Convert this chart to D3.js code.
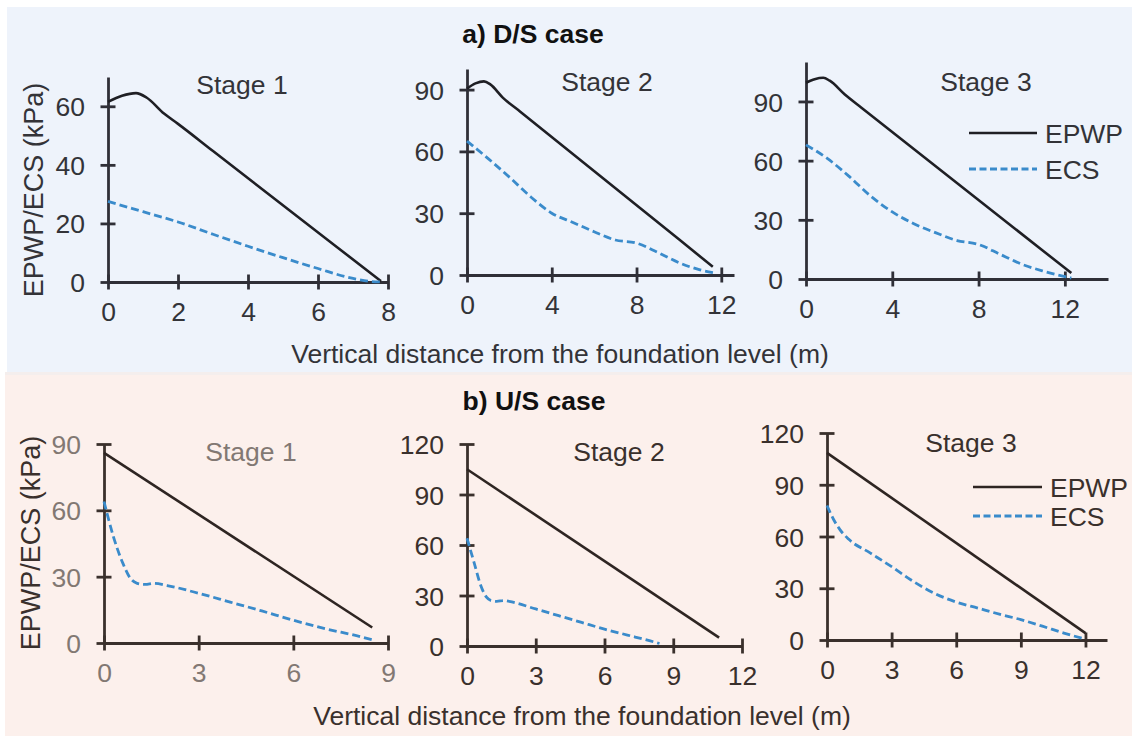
<!DOCTYPE html>
<html>
<head>
<meta charset="utf-8">
<script src="https://cdn.jsdelivr.net/npm/d3@7"></script>
<style>
  body { margin: 0; background: #fff; }
  svg text { font-family: "Liberation Sans", Arial, sans-serif; }
</style>
</head>
<body>
<div class="canvas"></div>
<script>
// values: [distance (m), pressure (kPa)]
const dsStage1Epwp = [[0,61.5],[0.4,63.6],[0.8,64.5],[1.1,63],[1.6,57.5],[2,54],[3,44.7],[6.5,12.3],[7.8,0.3]];
const dsStage1Ecs  = [[0,27.5],[1,24],[2,20.5],[3,16.3],[4,12.2],[5,8.3],[6,4.6],[7,1.2],[7.5,0.2],[7.8,0]];
const dsStage2Epwp = [[0,90.5],[0.4,93],[0.8,94],[1.1,92.5],[1.7,86],[2.5,79.4],[10,17.3],[11.6,4]];
const dsStage2Ecs  = [[0,65],[1,56.5],[2,47.5],[3,38],[4,30],[5,25.5],[6,21],[7,17],[8,15.5],[9,11],[10,6],[11,2.5],[11.7,1]];
const dsStage3Epwp = [[0,99.5],[0.4,101.3],[0.8,102],[1.1,100.5],[1.8,93.5],[2.6,86.6],[11,14.2],[12.3,3]];
const dsStage3Ecs  = [[0,68],[1,61],[2,52],[3,42],[4,34],[5,28],[6,23.5],[7,19.5],[8,17.5],[9,12.5],[10,7.5],[11,4],[12.3,0.5]];

const usStage1Epwp = [[0,86],[8.5,7]];
const usStage1Ecs  = [[0,64],[0.3,48],[0.6,36],[0.85,29],[1.05,27],[1.3,26.5],[1.6,27],[2,26],[3,22.5],[4,18.5],[5,14.5],[6,10.3],[7,6.5],[8,3.3],[8.5,1.5]];
const usStage2Epwp = [[0,105],[11,5]];
const usStage2Ecs  = [[0,64],[0.3,50],[0.6,36],[0.85,29],[1.05,27],[1.3,26.5],[1.6,27],[2,26],[3,22],[4,18],[5,14],[6,10],[7,6.5],[8,3],[8.4,1.5]];
const usStage3Epwp = [[0,108.5],[12,4]];
const usStage3Ecs  = [[0,78],[0.3,70],[0.6,64],[1,58.5],[2,50.5],[3,42.5],[4,34],[5,27],[6,22],[7,18.5],[8,15],[9,11.8],[10,8],[11,4],[12,0.5]];

// tick labels
const xTicksDs1 = [0,2,4,6,8];
const xTicksDs23 = [0,4,8,12];
const yTicksDs1 = [0,20,40,60];
const yTicksDs23 = [0,30,60,90];
const xTicksUs1 = [0,3,6,9];
const xTicksUs23 = [0,3,6,9,12];
const yTicksUs1 = [0,30,60,90];
const yTicksUs23 = [0,30,60,90,120];

const seriesNames = ["EPWP","ECS"];
const xTitle = "Vertical distance from the foundation level (m)";
const yTitle = "EPWP/ECS (kPa)";

const svgWidth = 1132, svgHeight = 736;
const fs = "26.5px";

const svg = d3.select('.canvas')
  .append('svg')
    .attr('width', svgWidth)
    .attr('height', svgHeight);

// the two coloured bands
svg.append("rect").attr("x",7).attr("y",7).attr("width",1125).attr("height",365).attr("fill","#eef3fb");
svg.append("rect").attr("x",5).attr("y",372).attr("width",1127).attr("height",4).attr("fill","#f4eeed");
svg.append("rect").attr("x",5).attr("y",375).attr("width",1127).attr("height",361).attr("fill","#fcf0ec");

const blue = "#3a8bcb";

// one panel per stage; position info only
const panels = [
  {epwp: dsStage1Epwp, ecs: dsStage1Ecs, xMax: 8,    yMax: 70,  xt: xTicksDs1,  yt: yTicksDs1,  left:108, right:388,  bottom:282, top:77,
   stage:"Stage 1", sx:242, sy:94,  ink:"#2f2f37", tickInk:"#333338", line:"#1f1f24"},
  {epwp: dsStage2Epwp, ecs: dsStage2Ecs, xMax: 12.6, yMax: 100, xt: xTicksDs23, yt: yTicksDs23, left:467, right:734,  bottom:275, top:69,
   stage:"Stage 2", sx:607, sy:91,  ink:"#2f2f37", tickInk:"#333338", line:"#1f1f24"},
  {epwp: dsStage3Epwp, ecs: dsStage3Ecs, xMax: 14,   yMax: 110, xt: xTicksDs23, yt: yTicksDs23, left:806, right:1108, bottom:279, top:62,
   stage:"Stage 3", sx:986, sy:91,  ink:"#2f2f37", tickInk:"#333338", line:"#1f1f24"},
  {epwp: usStage1Epwp, ecs: usStage1Ecs, xMax: 9,    yMax: 90,  xt: xTicksUs1,  yt: yTicksUs1,  left:104, right:388,  bottom:643, top:444,
   stage:"Stage 1", sx:251, sy:461, ink:"#3a302c", tickInk:"#827873", line:"#2e2522", stageInk:"#827873"},
  {epwp: usStage2Epwp, ecs: usStage2Ecs, xMax: 12,   yMax: 120, xt: xTicksUs23, yt: yTicksUs23, left:467, right:742,  bottom:646, top:444,
   stage:"Stage 2", sx:619, sy:461, ink:"#3a302c", tickInk:"#3a302c", line:"#2e2522"},
  {epwp: usStage3Epwp, ecs: usStage3Ecs, xMax: 13,   yMax: 120, xt: xTicksUs23, yt: yTicksUs23, left:827, right:1107, bottom:640, top:433,
   stage:"Stage 3", sx:971, sy:452, ink:"#3a302c", tickInk:"#3a302c", line:"#2e2522"}
];

panels.forEach(p => {
  const x = d3.scaleLinear().domain([0, p.xMax]).range([p.left, p.right]);
  const y = d3.scaleLinear().domain([0, p.yMax]).range([p.bottom, p.top]);
  const g = svg.append("g");

  // x axis with cross ticks
  const xg = g.append("g")
    .attr("transform", `translate(0,${p.bottom})`)
    .call(d3.axisBottom(x).tickValues(p.xt).tickSizeOuter(0).tickFormat(d3.format("d")));
  xg.selectAll(".tick line").attr("y1",-7.5).attr("y2",7.5);
  xg.selectAll("text").attr("y",20).attr("dy","0.72em").style("font-size",fs).attr("fill",p.tickInk);

  const yg = g.append("g")
    .attr("transform", `translate(${p.left},0)`)
    .call(d3.axisLeft(y).tickValues(p.yt).tickSizeOuter(0).tickFormat(d3.format("d")));
  yg.selectAll(".tick line").attr("x1",-7.5).attr("x2",7.5);
  yg.selectAll("text").attr("x",-23).attr("dy","0.36em").style("font-size",fs).attr("fill",p.tickInk);

  g.selectAll(".domain, .tick line").attr("stroke", p.ink).attr("stroke-width", 2.8);

  const line = d3.line().x(d => x(d[0])).y(d => y(d[1])).curve(d3.curveMonotoneX);

  g.append("path").attr("d", line(p.epwp))
    .attr("fill","none").attr("stroke",p.line).attr("stroke-width",2.6);
  g.append("path").attr("d", line(p.ecs))
    .attr("fill","none").attr("stroke",blue).attr("stroke-width",2.8).attr("stroke-dasharray","8,4");

  g.append("text").attr("x",p.sx).attr("y",p.sy).attr("text-anchor","middle")
    .style("font-size",fs).attr("fill", p.stageInk || p.tickInk).text(p.stage);
});

// titles and axis labels
const titles = [
  {t:"a) D/S case",  x:533, y:43},
  {t:"b) U/S case",  x:534, y:410}
];
titles.forEach(d => svg.append("text").attr("x",d.x).attr("y",d.y).attr("text-anchor","middle")
  .style("font-size","26.5px").style("font-weight","bold").attr("fill","#111").text(d.t));

svg.append("text").attr("x",560).attr("y",363).attr("text-anchor","middle")
  .style("font-size","26.5px").attr("fill","#333338").text(xTitle);
svg.append("text").attr("x",582).attr("y",725).attr("text-anchor","middle")
  .style("font-size","26.5px").attr("fill","#3a302c").text(xTitle);

svg.append("text").attr("transform","translate(43,190) rotate(-90)").attr("text-anchor","middle")
  .style("font-size","27px").attr("fill","#333338").text(yTitle);
svg.append("text").attr("transform","translate(40,543) rotate(-90)").attr("text-anchor","middle")
  .style("font-size","27px").attr("fill","#3a302c").text(yTitle);

// legends (third panel of each row)
const legends = [
  {x1:969, x2:1037, ys:[133,169], tx:1045, ink:"#333338", line:"#1f1f24"},
  {x1:973, x2:1042, ys:[487,516], tx:1050, ink:"#3a302c", line:"#2e2522"}
];
legends.forEach(L => {
  seriesNames.forEach((name, i) => {
    svg.append("line").attr("x1",L.x1).attr("x2",L.x2).attr("y1",L.ys[i]).attr("y2",L.ys[i])
      .attr("stroke", i === 0 ? L.line : blue).attr("stroke-width", i === 0 ? 2.6 : 2.8)
      .attr("stroke-dasharray", i === 0 ? null : "7,3.5");
    svg.append("text").attr("x",L.tx).attr("y",L.ys[i]).attr("dy","0.36em")
      .style("font-size",fs).attr("fill",L.ink).text(name);
  });
});
</script>
</body>
</html>
